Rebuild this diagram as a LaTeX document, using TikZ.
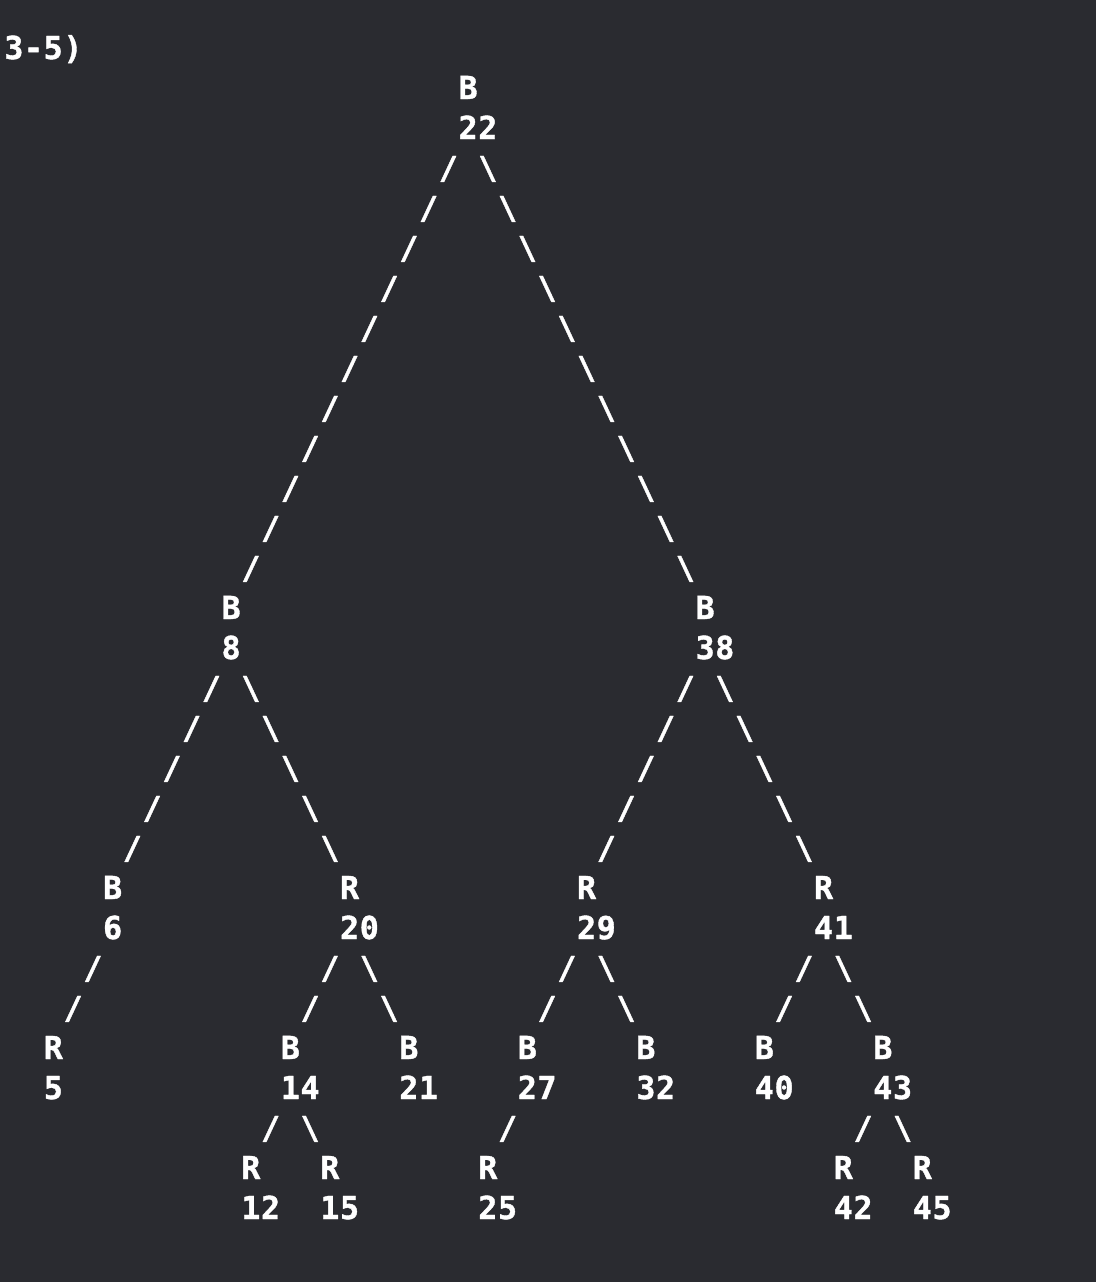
\documentclass[tikz,border=0pt]{standalone}
\usepackage{fontspec}
\setmonofont[LetterSpace=2,BoldFont={DejaVu Sans Mono Bold},BoldFeatures={FakeBold=1.2}]{DejaVu Sans Mono}
\usetikzlibrary{positioning}
\definecolor{bgc}{RGB}{42,43,48}

\begin{document}
\begin{tikzpicture}[
  x=0.395cm, y=-0.8cm,
  font=\ttfamily\bfseries\fontsize{18}{22.76}\selectfont,
  key/.style={anchor=base west,inner sep=0pt,align=left,text=white},
  link/.style={anchor=base,inner sep=0pt,text=white}
]
  \fill[bgc] (-0.2025,-1.475) rectangle (55.29,30.575);

  \node[key] (title) at (0,0) {3-5)};

  % tree, one node per key (placed by its number line)
  \node[key] (n22) at (23,2) {B\\22};
  \node[key] (n8) at (11,15) {B\\8};
  \node[key] (n38) at (35,15) {B\\38};
  \node[key] (n6) at (5,22) {B\\6};
  \node[key] (n20) at (17,22) {R\\20};
  \node[key] (n29) at (29,22) {R\\29};
  \node[key] (n41) at (41,22) {R\\41};
  \node[key] (n5) at (2,26) {R\\5};
  \node[key] (n14) at (14,26) {B\\14};
  \node[key] (n21) at (20,26) {B\\21};
  \node[key] (n27) at (26,26) {B\\27};
  \node[key] (n32) at (32,26) {B\\32};
  \node[key] (n40) at (38,26) {B\\40};
  \node[key] (n43) at (44,26) {B\\43};
  \node[key] (n12) at (12,29) {R\\12};
  \node[key] (n15) at (16,29) {R\\15};
  \node[key] (n25) at (24,29) {R\\25};
  \node[key] (n42) at (42,29) {R\\42};
  \node[key] (n45) at (46,29) {R\\45};

  % left children
  \foreach \p/\c/\nb in {n22/n8/11,n8/n6/5,n38/n29/5,n6/n5/2,n20/n14/2,
                         n29/n27/2,n41/n40/2,n14/n12/1,n27/n25/1,n43/n42/1}
    \path ([shift={(0.5,0)}]\p.base west) -- ([shift={(0.5,-1)}]\c.base west)
      foreach \k in {1,...,\nb} {node[link,pos=\k/(\nb+1)] {/}};

  % right children
  \foreach \p/\c/\nb in {n22/n38/11,n8/n20/5,n38/n41/5,n20/n21/2,
                         n29/n32/2,n41/n43/2,n14/n15/1,n43/n45/1}
    \path ([shift={(0.5,0)}]\p.base west) -- ([shift={(0.5,-1)}]\c.base west)
      foreach \k in {1,...,\nb} {node[link,pos=\k/(\nb+1)] {\textbackslash}};
\end{tikzpicture}
\end{document}
